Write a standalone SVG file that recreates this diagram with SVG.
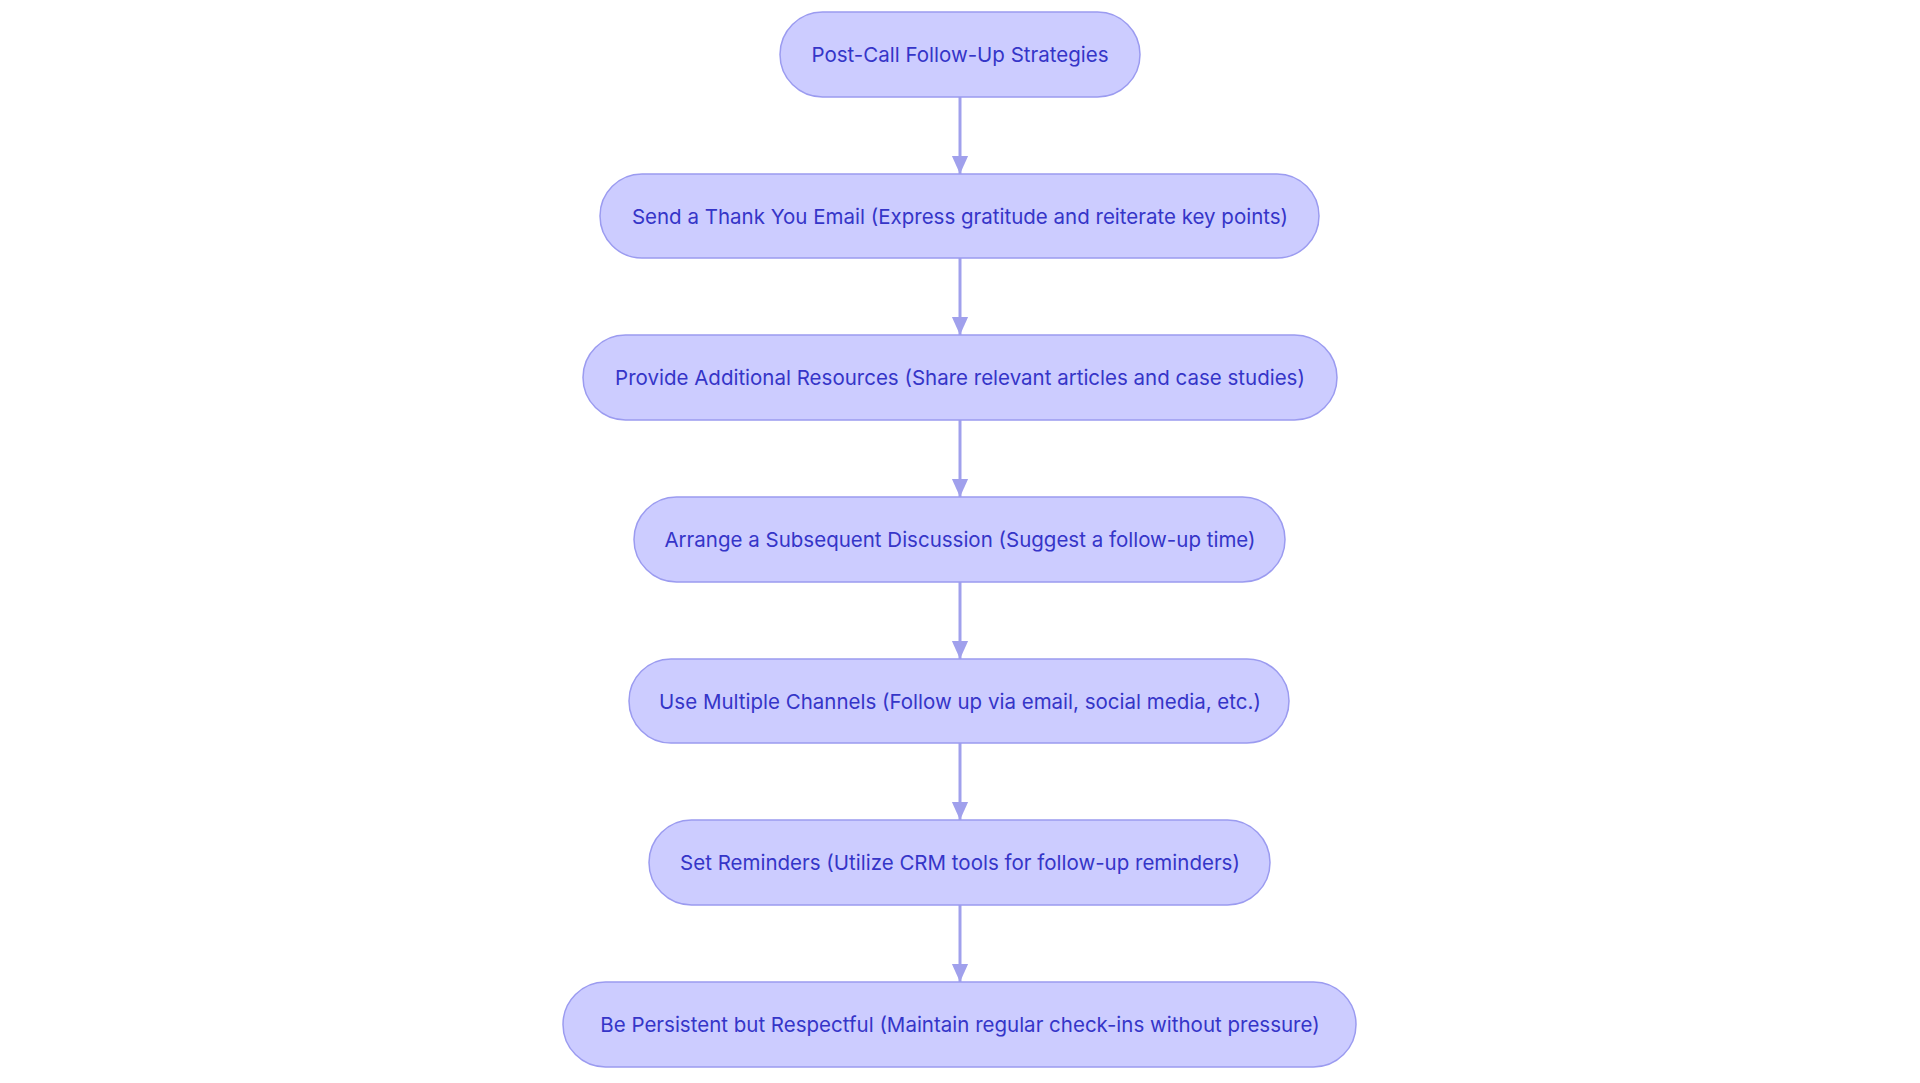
<svg xmlns="http://www.w3.org/2000/svg" width="1920" height="1083" viewBox="0 0 1920 1083">
<style>
.n rect{fill:#ccccff;stroke:#9b9bf0;stroke-width:1.5}
.n text{font-family:Inter,"Noto Sans",sans-serif;font-size:20.5px;fill:#3535c8;text-anchor:middle;dominant-baseline:central}
.e line{stroke:#a0a0ec;stroke-width:3}
</style>
<defs><marker id="a" viewBox="0 0 10 10" refX="10" refY="5" markerWidth="18" markerHeight="18" markerUnits="userSpaceOnUse" orient="auto"><path d="M0,0.5L10,5L0,9.5z" fill="#a0a0ec"/></marker></defs>
<rect width="1920" height="1083" fill="#fff"/>
<g class="e">
<line x1="960" y1="97" x2="960" y2="174" marker-end="url(#a)"/>
<line x1="960" y1="258" x2="960" y2="335" marker-end="url(#a)"/>
<line x1="960" y1="420" x2="960" y2="497" marker-end="url(#a)"/>
<line x1="960" y1="582" x2="960" y2="659" marker-end="url(#a)"/>
<line x1="960" y1="743" x2="960" y2="820" marker-end="url(#a)"/>
<line x1="960" y1="905" x2="960" y2="982" marker-end="url(#a)"/>
</g>
<g id="n1" class="n"><rect x="780" y="12" width="360" height="85" rx="42.5"/><text x="960" y="54.5">Post-Call Follow-Up Strategies</text></g>
<g id="n2" class="n"><rect x="600" y="174" width="719" height="84" rx="42"/><text x="960" y="216">Send a Thank You Email (Express gratitude and reiterate key points)</text></g>
<g id="n3" class="n"><rect x="583" y="335" width="754" height="85" rx="42.5"/><text x="960" y="377.5">Provide Additional Resources (Share relevant articles and case studies)</text></g>
<g id="n4" class="n"><rect x="634" y="497" width="651" height="85" rx="42.5"/><text x="960" y="539.5">Arrange a Subsequent Discussion (Suggest a follow-up time)</text></g>
<g id="n5" class="n"><rect x="629" y="659" width="660" height="84" rx="42"/><text x="960" y="701">Use Multiple Channels (Follow up via email, social media, etc.)</text></g>
<g id="n6" class="n"><rect x="649" y="820" width="621" height="85" rx="42.5"/><text x="960" y="862.5">Set Reminders (Utilize CRM tools for follow-up reminders)</text></g>
<g id="n7" class="n"><rect x="563" y="982" width="793" height="85" rx="42.5"/><text x="960" y="1024.5">Be Persistent but Respectful (Maintain regular check-ins without pressure)</text></g>
</svg>
